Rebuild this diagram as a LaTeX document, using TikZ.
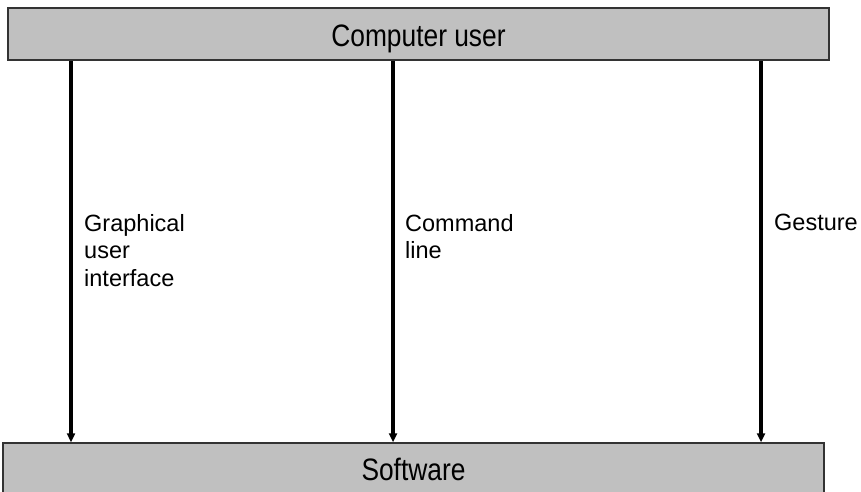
\documentclass[tikz,border=0pt]{standalone}
\usepackage{fontspec}
\setmainfont{Liberation Sans}
\newfontfamily\boxfont[FakeStretch=0.85]{Liberation Sans}
\usetikzlibrary{arrows.meta}
\definecolor{boxgray}{HTML}{C0C0C0}
\tikzset{
  layerbox/.style={draw=black!80, line width=2pt, fill=boxgray, inner sep=0pt,
    font=\boxfont\fontsize{31}{36}\selectfont, text depth=0pt},
  flow/.style={line width=3.5pt, -{Triangle[width=8pt,length=9pt]}},
  lbl/.style={anchor=north west, inner sep=0pt, align=left,
    font=\fontsize{23.5}{27.5}\selectfont}
}
\begin{document}
\begin{tikzpicture}[x=1pt,y=-1pt]
\clip (0,0) rectangle (861,491);
\useasboundingbox (0,0) rectangle (861,491);
\node[layerbox, minimum width=821pt, minimum height=52pt, text height=24pt] (user) at (418.5,34) {Computer user};
\node[layerbox, line width=1.5pt, minimum width=821pt, minimum height=57pt, text height=17pt] (sw) at (413.5,471.5) {Software};
\coordinate (c1) at (71,0);
\coordinate (c2) at (393,0);
\coordinate (c3) at (761,0);
\draw[flow] (user.south -| c1) -- (sw.north -| c1);
\draw[flow] (user.south -| c2) -- (sw.north -| c2);
\draw[flow] (user.south -| c3) -- (sw.north -| c3);
\node[lbl] (gui) at (84,214) {Graphical\\user\\interface};
\node[lbl] (cli) at (405,214) {Command\\line};
\node[lbl] (ges) at (774,214) {Gesture};
\end{tikzpicture}
\end{document}
